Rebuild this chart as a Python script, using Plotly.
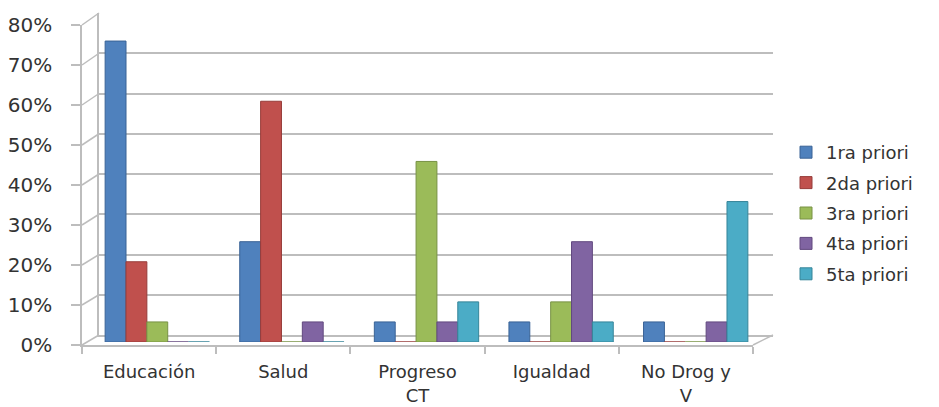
import plotly.graph_objects as go

categories = ["Educación", "Salud", "Progreso<br>CT", "Igualdad", "No Drog y<br>V"]
series_names = ["1ra priori", "2da priori", "3ra priori", "4ta priori", "5ta priori"]
v1 = [75, 25, 5, 5, 5]
v2 = [20, 60, 0, 0, 0]
v3 = [5, 0, 45, 10, 0]
v4 = [0, 5, 5, 25, 5]
v5 = [0, 0, 10, 5, 35]
series_values = [v1, v2, v3, v4, v5]
colors = ["#4F81BD", "#C0504D", "#9BBB59", "#8064A2", "#4BACC6"]
edge_colors = ["#3A6396", "#973C3A", "#789245", "#62497F", "#368599"]
y_ticks = [0, 10, 20, 30, 40, 50, 60, 70, 80]

FONT = "DejaVu Sans"
TXT = "#333333"
GRID = "#BDBDBD"

# paper geometry (pixels)
W, H = 939, 407
L, R, T, B = 82, 166, 13, 62
PW, PH = W - L - R, H - T - B

front_x = [0, 671 / PW]
front_y = [0, 320 / PH]
back_x = [17 / PW, 1]
back_y = [10 / PH, 1]
bar_x = [8 / PW, 681 / PW]
bar_y = [3 / PH, 324 / PH]
cat_range = [-0.5, len(categories) - 0.5]

fig = go.Figure()

# front axes (labels)
fig.add_trace(go.Scatter(x=categories, y=[None] * len(categories), xaxis="x", yaxis="y",
                         showlegend=False, hoverinfo="skip", mode="markers"))
# back wall (grid)
fig.add_trace(go.Scatter(x=categories, y=[None] * len(categories), xaxis="x2", yaxis="y2",
                         showlegend=False, hoverinfo="skip", mode="markers"))
# bars
for name, vals, c, ec in zip(series_names, series_values, colors, edge_colors):
    fig.add_trace(go.Bar(x=categories, y=vals, name=name, xaxis="x3", yaxis="y3",
                         marker=dict(color=c, line=dict(color=ec, width=1)),
                         legendgroup=name))

axis_common = dict(fixedrange=True, automargin=False)
fig.update_layout(
    width=W, height=H,
    margin=dict(l=L, r=R, t=T, b=B, pad=0, autoexpand=False),
    paper_bgcolor="white",
    plot_bgcolor="rgba(0,0,0,0)",
    font=dict(family=FONT, color=TXT),
    barmode="group", bargap=0.225, bargroupgap=0,
    xaxis=dict(domain=front_x, anchor="y", type="category", range=cat_range,
               tickson="boundaries", ticks="outside", ticklen=7, tickcolor=GRID,
               tickwidth=1.5, showline=True, linecolor=GRID, linewidth=1.5, showgrid=False,
               tickfont=dict(size=18, color=TXT), ticklabelstandoff=10, **axis_common),
    yaxis=dict(domain=front_y, anchor="x", range=[0, 80], tickvals=y_ticks,
               ticktext=[f"{v}%" for v in y_ticks], ticks="outside", ticklen=9,
               tickwidth=1.5, tickcolor=GRID, showline=True, linecolor=GRID, linewidth=1.5,
               showgrid=False, zeroline=False, tickfont=dict(size=20, color=TXT),
               ticklabelstandoff=15, **axis_common),
    xaxis2=dict(domain=back_x, anchor="y2", type="category", range=cat_range,
                showticklabels=False, showline=True, linecolor=GRID, linewidth=1.5,
                showgrid=False, ticks="", **axis_common),
    yaxis2=dict(domain=back_y, anchor="x2", range=[0, 80], tickvals=y_ticks,
                showticklabels=False, showgrid=True, gridcolor=GRID, gridwidth=1.5,
                showline=True, linecolor=GRID, linewidth=1.5, zeroline=False, ticks="",
                **axis_common),
    xaxis3=dict(domain=bar_x, anchor="y3", type="category", range=cat_range,
                showticklabels=False, showline=False, showgrid=False, ticks="", **axis_common),
    yaxis3=dict(domain=bar_y, anchor="x3", range=[0, 80], showticklabels=False,
                showline=False, showgrid=False, zeroline=False, ticks="", **axis_common),
    legend=dict(x=(786 - L) / PW, xanchor="left", y=(345 - 134) / PH, yanchor="top",
                font=dict(size=18, color=TXT), traceorder="grouped",
                tracegroupgap=4, bgcolor="rgba(0,0,0,0)"),
)

# 3D frame connectors (side wall and floor edges)
shapes = []
def front_py(v):
    return front_y[0] + (front_y[1] - front_y[0]) * v / 80
def back_py(v):
    return back_y[0] + (back_y[1] - back_y[0]) * v / 80
for v in y_ticks:
    shapes.append(dict(type="line", xref="paper", yref="paper",
                       x0=front_x[0], y0=front_py(v), x1=back_x[0], y1=back_py(v),
                       line=dict(color=GRID, width=1.5)))
shapes.append(dict(type="line", xref="paper", yref="paper",
                   x0=front_x[1], y0=front_py(0), x1=back_x[1], y1=back_py(0),
                   line=dict(color=GRID, width=1.5)))
fig.update_layout(shapes=shapes)

fig.write_html("out.html")
